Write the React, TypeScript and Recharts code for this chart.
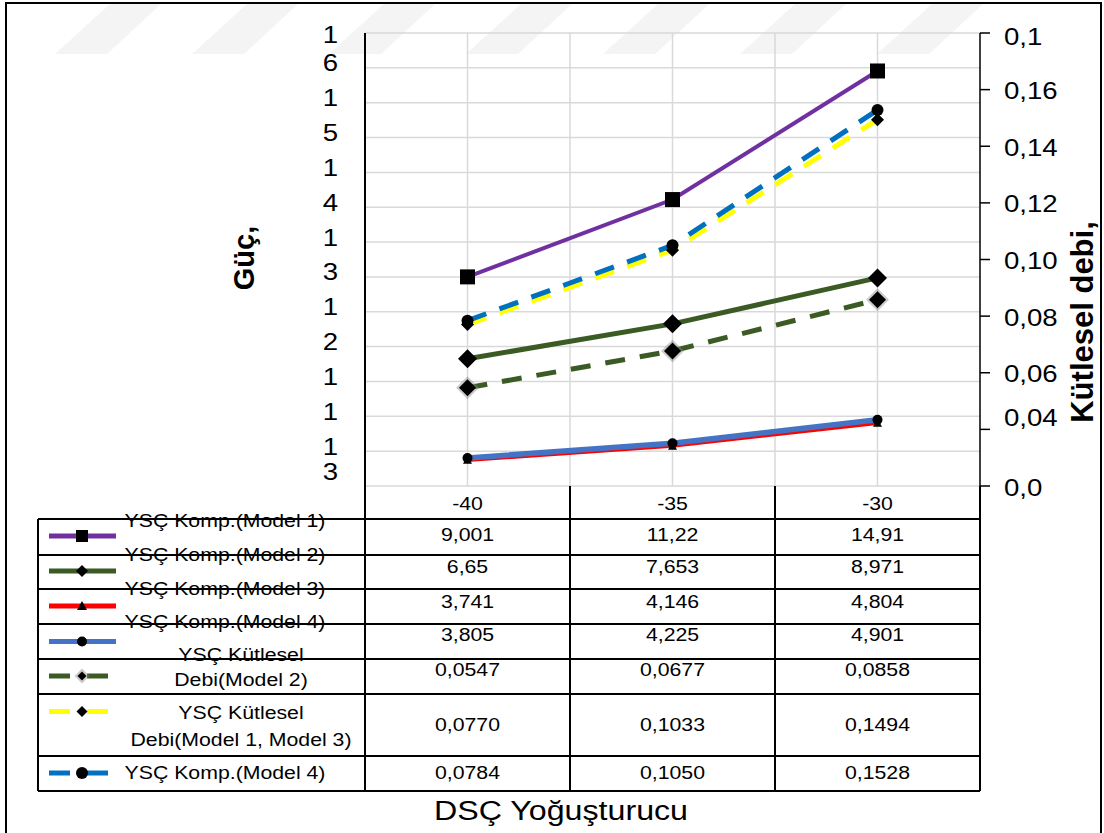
import React from 'react'
import { ComposedChart, Line, XAxis, YAxis, CartesianGrid } from 'recharts'

const categories = ['-40', '-35', '-30']

const powerModel1 = [9.001, 11.22, 14.91]
const powerModel2 = [6.65, 7.653, 8.971]
const powerModel3 = [3.741, 4.146, 4.804]
const powerModel4 = [3.805, 4.225, 4.901]
const flowModel2 = [0.0547, 0.0677, 0.0858]
const flowModel13 = [0.077, 0.1033, 0.1494]
const flowModel4 = [0.0784, 0.105, 0.1528]

const powerTicks = [16, 15, 14, 13, 12, 11, 10, 9, 8, 7, 6, 5, 4, 3]
const powerTickLabels = ['1', '6', '1', '5', '1', '4', '1', '3', '1', '2', '1', '1', '1', '3']
const flowTicks = [0.18, 0.16, 0.14, 0.12, 0.1, 0.08, 0.06, 0.04, 0.02]
const flowTickLabels = ['0,1', '0,16', '0,14', '0,12', '0,10', '0,08', '0,06', '0,04', '0,0']

const seriesNames = [
  ['YSÇ Komp.(Model 1)'],
  ['YSÇ Komp.(Model 2)'],
  ['YSÇ Komp.(Model 3)'],
  ['YSÇ Komp.(Model 4)'],
  ['YSÇ Kütlesel', 'Debi(Model 2)'],
  ['YSÇ Kütlesel', 'Debi(Model 1, Model 3)'],
  ['YSÇ Komp.(Model 4)'],
]

const FONT = '"Liberation Sans", Arial, sans-serif'

const fmtPower = (v: number) => String(v).replace('.', ',')
const fmtFlow = (v: number) => v.toFixed(4).replace('.', ',')

type Shape = 'square' | 'diamond' | 'triangle' | 'circle'
type Series = {
  key: string
  values: number[]
  axis: 'power' | 'flow'
  color: string
  width: number
  dash?: string
  shape: Shape
  size: number
  keySize: number
  halo?: boolean
}

// series styles (Excel order, last one drawn on top)
const series: Series[] = [
  { key: 'p1', values: powerModel1, axis: 'power', color: '#7030A0', width: 4, shape: 'square', size: 15, keySize: 12 },
  { key: 'p2', values: powerModel2, axis: 'power', color: '#3B5A24', width: 5, shape: 'diamond', size: 19, keySize: 12 },
  { key: 'p3', values: powerModel3, axis: 'power', color: '#FF0000', width: 3.5, shape: 'triangle', size: 9, keySize: 10 },
  { key: 'p4', values: powerModel4, axis: 'power', color: '#4472C4', width: 5.5, shape: 'circle', size: 10, keySize: 10 },
  { key: 'f2', values: flowModel2, axis: 'flow', color: '#3B5A24', width: 5, dash: '20 15', shape: 'diamond', size: 17, keySize: 9, halo: true },
  { key: 'f13', values: flowModel13, axis: 'flow', color: '#FFFF00', width: 5, dash: '20 14', shape: 'diamond', size: 13, keySize: 11 },
  { key: 'f4', values: flowModel4, axis: 'flow', color: '#0070C0', width: 5, dash: '20 14', shape: 'circle', size: 12, keySize: 12 },
]

const chartData = categories.map((cat, i) => {
  const row: Record<string, string | number> = { cat }
  series.forEach((s) => (row[s.key] = s.values[i]))
  return row
})

// layout of the data table under the plot
const PLOT_L = 365
const PLOT_R = 980
const TABLE_L = 38
const HEADER_TOP = 486
const rowEdges = [519, 555, 589, 624, 659, 694, 756, 791]
const colEdges = [PLOT_L, 570, 775, PLOT_R]
const rowLayout = [
  { cx: 225, lines: [527], keyY: 536, valY: 541 },
  { cx: 225, lines: [561], keyY: 571, valY: 573 },
  { cx: 225, lines: [595], keyY: 606, valY: 608 },
  { cx: 225, lines: [628], keyY: 641.5, valY: 641 },
  { cx: 241, lines: [661, 686], keyY: 676, valY: 676 },
  { cx: 241, lines: [719, 746], keyY: 711.5, valY: 731 },
  { cx: 225, lines: [779], keyY: 773, valY: 779 },
]

function SText({ x, y, size, sx = 1.12, anchor = 'middle', weight = 'normal', children }: any) {
  return (
    <text
      transform={`translate(${x},${y}) scale(${sx},1)`}
      fontSize={size}
      fontWeight={weight}
      fontFamily={FONT}
      textAnchor={anchor}
      fill="#000"
    >
      {children}
    </text>
  )
}

function Marker({ shape, cx, cy, size, halo }: { shape: Shape; cx: number; cy: number; size: number; halo?: boolean }) {
  const h = size / 2
  if (shape === 'square') return <rect x={cx - h} y={cy - h} width={size} height={size} fill="#000" />
  if (shape === 'circle') return <circle cx={cx} cy={cy} r={h} fill="#000" />
  if (shape === 'triangle')
    return <polygon points={`${cx},${cy - h} ${cx + h},${cy + h * 0.8} ${cx - h},${cy + h * 0.8}`} fill="#000" />
  const d = (r: number) => `${cx},${cy - r} ${cx + r},${cy} ${cx},${cy + r} ${cx - r},${cy}`
  return (
    <g>
      {halo && <polygon points={d(h + 3)} fill="#8c8c8c" opacity={0.45} />}
      <polygon points={d(h)} fill="#000" />
    </g>
  )
}

const PowerTick = (props: any) => {
  const { y, index } = props
  const last = powerTicks.length - 1
  const shift = index === 0 ? 1.5 : index === last ? -15 : -5
  return (
    <SText x={338} y={y + shift + 8.5} size={24} sx={1.15} anchor="end">
      {powerTickLabels[index]}
    </SText>
  )
}

const FlowTick = (props: any) => {
  const { y, index } = props
  const shift = index === 0 ? 3 : index === 7 ? -12 : 1
  return (
    <SText x={1004} y={y + shift + 8.5} size={24} sx={1.15} anchor="start">
      {flowTickLabels[index]}
    </SText>
  )
}

function LegendKey({ s, y }: { s: Series; y: number }) {
  return (
    <g>
      {s.dash ? (
        <>
          <line x1={49} x2={70} y1={y} y2={y} stroke={s.color} strokeWidth={5} />
          <line x1={87} x2={108} y1={y} y2={y} stroke={s.color} strokeWidth={5} />
        </>
      ) : (
        <line x1={49} x2={116} y1={y} y2={y} stroke={s.color} strokeWidth={5} />
      )}
      <Marker shape={s.shape} cx={82} cy={y} size={s.keySize} halo={s.halo} />
    </g>
  )
}

export default function App() {
  const top = rowEdges[0]
  const bottom = rowEdges[rowEdges.length - 1]
  return (
    <div style={{ position: 'fixed', left: 0, top: 0, width: 1104, height: 833, background: '#fff', overflow: 'hidden' }}>
      {/* faint watermark stripes */}
      <svg style={{ position: 'absolute', left: 0, top: 0 }} width={1104} height={833}>
        {Array.from({ length: 7 }, (_, k) => {
          const x0 = 55 + 137 * k
          return <polygon key={k} points={`${x0 + 55},4 ${x0 + 106},4 ${x0 + 52},54 ${x0},54`} fill="#f4f4f4" />
        })}
      </svg>

      <div style={{ position: 'absolute', left: 0, top: 0 }}>
        <ComposedChart width={1104} height={833} data={chartData} margin={{ top: 33, right: 64, bottom: 347, left: 305 }}>
          <CartesianGrid
            yAxisId="power"
            stroke="#d9d9d9"
            strokeWidth={1.5}
            verticalCoordinatesGenerator={({ offset }: any) =>
              [1, 2, 3, 4, 5].map((k) => offset.left + (offset.width * k) / 6)
            }
          />
          <XAxis
            dataKey="cat"
            scale="band"
            height={0}
            tick={false}
            tickLine={false}
            axisLine={{ stroke: '#000', strokeWidth: 1 }}
          />
          <YAxis
            yAxisId="power"
            width={60}
            domain={[3, 16]}
            ticks={powerTicks}
            interval={0}
            tickLine={false}
            axisLine={{ stroke: '#000', strokeWidth: 2 }}
            tick={PowerTick}
          />
          <YAxis
            yAxisId="flow"
            orientation="right"
            width={60}
            domain={[0.02, 0.18]}
            ticks={flowTicks}
            interval={0}
            tickSize={10}
            tickLine={{ stroke: '#000', strokeWidth: 1.5 }}
            axisLine={{ stroke: '#000', strokeWidth: 1.5 }}
            tick={FlowTick}
          />
          {series.map((s) => (
            <Line
              key={s.key}
              yAxisId={s.axis}
              dataKey={s.key}
              type="linear"
              stroke={s.color}
              strokeWidth={s.width}
              strokeDasharray={s.dash}
              isAnimationActive={false}
              activeDot={false}
              dot={(p: any) => (
                <g key={`${s.key}-${p.index}`}>
                  <Marker shape={s.shape} cx={p.cx} cy={p.cy} size={s.size} halo={s.halo} />
                </g>
              )}
            />
          ))}
        </ComposedChart>
      </div>

      <svg style={{ position: 'absolute', left: 0, top: 0, pointerEvents: 'none' }} width={1104} height={833}>
        {/* outer frame */}
        <rect x={6} y={3} width={1095} height={900} fill="none" stroke="#000" strokeWidth={2} />

        {/* header row */}
        {categories.map((c, i) => (
          <SText key={c} x={(colEdges[i] + colEdges[i + 1]) / 2} y={510} size={19}>
            {c}
          </SText>
        ))}

        {/* row labels and values */}
        {series.map((s, r) => {
          const L = rowLayout[r]
          const fmt = s.axis === 'power' ? fmtPower : fmtFlow
          return (
            <g key={s.key}>
              {seriesNames[r].map((t, j) => (
                <SText key={j} x={L.cx} y={L.lines[j]} size={19}>
                  {t}
                </SText>
              ))}
              {s.values.map((v, i) => (
                <SText key={i} x={(colEdges[i] + colEdges[i + 1]) / 2} y={L.valY} size={19}>
                  {fmt(v)}
                </SText>
              ))}
              <LegendKey s={s} y={L.keyY} />
            </g>
          )
        })}

        {/* table grid */}
        {rowEdges.map((y) => (
          <line key={y} x1={TABLE_L} x2={PLOT_R} y1={y} y2={y} stroke="#000" strokeWidth={2} />
        ))}
        <line x1={TABLE_L} x2={TABLE_L} y1={top} y2={bottom} stroke="#000" strokeWidth={2} />
        {colEdges.map((x) => (
          <line key={x} x1={x} x2={x} y1={HEADER_TOP} y2={bottom} stroke="#000" strokeWidth={2} />
        ))}

        {/* axis titles */}
        <text transform="translate(254,258) rotate(-90)" fontSize={29} fontWeight="bold" fontFamily={FONT} textAnchor="middle">
          Güç,
        </text>
        <text transform="translate(1093,322) rotate(-90)" fontSize={31} fontWeight="bold" fontFamily={FONT} textAnchor="middle">
          Kütlesel debi,
        </text>
        <SText x={561} y={820} size={28} sx={1.15}>
          DSÇ Yoğuşturucu
        </SText>
      </svg>
    </div>
  )
}
